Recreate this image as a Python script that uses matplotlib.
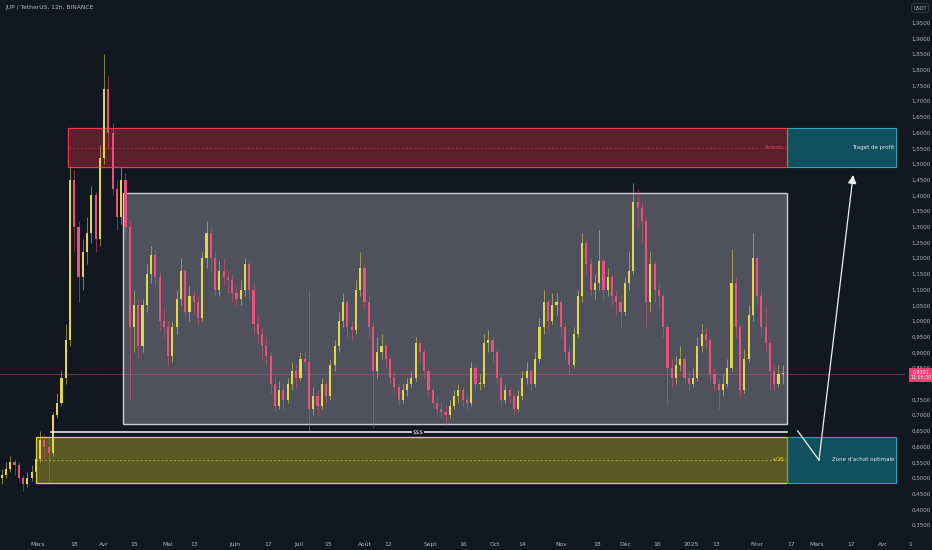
import matplotlib
matplotlib.use("Agg")
import matplotlib.pyplot as plt
from matplotlib.patches import Rectangle
import pandas as pd

# ---------------- data ----------------
start_date = "2024-02-13"          # first candle (2-day candles)
candle_step_days = 2
first_open = 0.50
closes = [
    0.51, 0.53, 0.55, 0.54, 0.50, 0.48, 0.50, 0.52, 0.56, 0.62,
    0.60, 0.58, 0.70, 0.74, 0.82, 0.94, 1.45, 1.30, 1.14, 1.22,
    1.28, 1.40, 1.26, 1.52, 1.74, 1.60, 1.42, 1.33, 1.45, 1.30,
    0.98, 1.05, 0.92, 1.05, 1.15, 1.21, 1.14, 1.00, 0.98, 0.89,
    0.98, 1.07, 1.16, 1.03, 1.08, 1.06, 1.01, 1.20, 1.28, 1.20,
    1.10, 1.16, 1.14, 1.13, 1.09, 1.07, 1.10, 1.18, 1.10, 0.99,
    0.96, 0.92, 0.89, 0.80, 0.73, 0.78, 0.75, 0.80, 0.84, 0.82,
    0.88, 0.87, 0.72, 0.76, 0.73, 0.80, 0.76, 0.86, 0.92, 1.00,
    1.06, 0.98, 0.97, 1.10, 1.17, 1.06, 0.98, 0.84, 0.90, 0.92,
    0.88, 0.82, 0.79, 0.75, 0.78, 0.80, 0.82, 0.93, 0.90, 0.84,
    0.78, 0.74, 0.72, 0.71, 0.70, 0.73, 0.76, 0.78, 0.75, 0.74,
    0.85, 0.80, 0.80, 0.93, 0.94, 0.90, 0.82, 0.75, 0.78, 0.76,
    0.72, 0.76, 0.82, 0.84, 0.80, 0.88, 0.98, 1.06, 1.00, 1.05,
    1.06, 0.98, 0.90, 0.86, 0.96, 1.08, 1.25, 1.18, 1.10, 1.12,
    1.19, 1.10, 1.14, 1.08, 1.06, 1.03, 1.12, 1.16, 1.38, 1.36,
    1.32, 1.06, 1.18, 1.10, 1.08, 0.98, 0.85, 0.82, 0.86, 0.88,
    0.82, 0.80, 0.82, 0.92, 0.96, 0.94, 0.83, 0.80, 0.78, 0.80,
    0.85, 1.12, 0.98, 0.78, 0.88, 1.02, 1.20, 1.08, 0.98, 0.93,
    0.84, 0.80, 0.83, 0.83,
]
highs = [
    0.53, 0.55, 0.57, 0.56, 0.55, 0.51, 0.52, 0.54, 0.58, 0.65,
    0.64, 0.63, 0.71, 0.77, 0.84, 0.99, 1.49, 1.48, 1.32, 1.26,
    1.33, 1.43, 1.41, 1.56, 1.85, 1.78, 1.63, 1.45, 1.49, 1.47,
    1.32, 1.10, 1.07, 1.07, 1.18, 1.24, 1.23, 1.16, 1.04, 1.00,
    1.00, 1.10, 1.20, 1.17, 1.11, 1.10, 1.08, 1.22, 1.32, 1.30,
    1.22, 1.19, 1.20, 1.16, 1.15, 1.11, 1.13, 1.20, 1.19, 1.12,
    1.02, 0.98, 0.95, 0.90, 0.82, 0.81, 0.80, 0.82, 0.87, 0.86,
    0.90, 0.90, 1.10, 0.79, 0.78, 0.82, 0.81, 0.88, 0.94, 1.03,
    1.09, 1.07, 1.00, 1.13, 1.22, 1.18, 1.08, 1.00, 0.95, 0.96,
    0.93, 0.89, 0.84, 0.80, 0.80, 0.82, 0.84, 0.95, 0.94, 0.91,
    0.85, 0.79, 0.76, 0.74, 0.73, 0.75, 0.78, 0.80, 0.79, 0.77,
    0.87, 0.86, 0.83, 0.96, 0.97, 0.95, 0.91, 0.83, 0.80, 0.79,
    0.77, 0.78, 0.84, 0.87, 0.85, 0.90, 1.01, 1.10, 1.07, 1.09,
    1.09, 1.07, 0.99, 0.92, 0.98, 1.10, 1.28, 1.26, 1.20, 1.15,
    1.29, 1.20, 1.17, 1.15, 1.10, 1.08, 1.14, 1.22, 1.44, 1.42,
    1.38, 1.33, 1.22, 1.19, 1.12, 1.09, 0.99, 0.88, 0.89, 0.92,
    0.89, 0.84, 0.85, 0.95, 0.99, 0.98, 0.95, 0.85, 0.82, 0.83,
    0.88, 1.23, 1.14, 0.99, 0.91, 1.05, 1.28, 1.21, 1.10, 1.05,
    0.94, 0.86, 0.86, 0.86,
]
lows = [
    0.48, 0.50, 0.52, 0.51, 0.49, 0.46, 0.47, 0.49, 0.51, 0.55,
    0.56, 0.49, 0.57, 0.69, 0.73, 0.80, 0.92, 1.22, 1.06, 1.10,
    1.18, 1.25, 1.22, 1.24, 1.50, 1.55, 1.40, 1.29, 1.31, 1.26,
    0.75, 0.90, 0.88, 0.90, 1.03, 1.12, 1.11, 0.97, 0.95, 0.86,
    0.87, 0.96, 1.05, 1.01, 1.00, 1.02, 0.99, 1.00, 1.17, 1.16,
    1.08, 1.08, 1.11, 1.09, 1.06, 1.05, 1.05, 1.08, 1.07, 0.96,
    0.93, 0.88, 0.86, 0.77, 0.71, 0.72, 0.72, 0.74, 0.78, 0.79,
    0.81, 0.84, 0.65, 0.70, 0.70, 0.72, 0.74, 0.75, 0.84, 0.90,
    0.98, 0.95, 0.94, 0.96, 1.08, 1.04, 0.95, 0.66, 0.82, 0.88,
    0.85, 0.80, 0.77, 0.73, 0.74, 0.76, 0.79, 0.81, 0.87, 0.82,
    0.76, 0.72, 0.70, 0.69, 0.67, 0.69, 0.72, 0.74, 0.73, 0.72,
    0.73, 0.78, 0.78, 0.79, 0.90, 0.87, 0.80, 0.73, 0.74, 0.74,
    0.70, 0.71, 0.75, 0.80, 0.78, 0.79, 0.87, 0.96, 0.97, 0.99,
    1.02, 0.95, 0.88, 0.83, 0.85, 0.95, 1.06, 1.15, 1.08, 1.07,
    1.10, 1.07, 1.08, 1.05, 1.02, 0.98, 1.02, 1.10, 1.15, 1.30,
    1.25, 0.98, 1.03, 1.06, 1.04, 0.95, 0.74, 0.79, 0.80, 0.84,
    0.80, 0.78, 0.79, 0.81, 0.90, 0.91, 0.81, 0.78, 0.72, 0.76,
    0.79, 0.84, 0.95, 0.76, 0.77, 0.87, 1.00, 1.05, 0.95, 0.90,
    0.78, 0.78, 0.79, 0.80,
]

tick_dates = ["2024-03-01", "2024-03-18", "2024-04-01", "2024-04-15", "2024-05-01",
              "2024-05-13", "2024-06-01", "2024-06-17", "2024-07-01", "2024-07-15",
              "2024-08-01", "2024-08-12", "2024-09-01", "2024-09-16", "2024-10-01",
              "2024-10-14", "2024-11-01", "2024-11-18", "2024-12-01", "2024-12-16",
              "2025-01-01", "2025-01-13", "2025-02-01", "2025-02-17", "2025-03-01",
              "2025-03-17", "2025-04-01"]
tick_labels = ["Mars", "18", "Avr", "15", "Mai", "13", "Juin", "17", "Juil", "15",
               "Août", "12", "Sept", "16", "Oct", "14", "Nov", "18", "Déc", "16",
               "2025", "13", "Févr", "17", "Mars", "17", "Avr"]
price_ticks = [0.35, 0.40, 0.45, 0.50, 0.55, 0.60, 0.65, 0.70, 0.75, 0.85,
               0.90, 0.95, 1.00, 1.05, 1.10, 1.15, 1.20, 1.25, 1.30, 1.35, 1.40,
               1.45, 1.50, 1.55, 1.60, 1.65, 1.70, 1.75, 1.80, 1.85, 1.90, 1.95]

# zones (price levels) and dates
red_zone = (1.490, 1.615)
gray_zone = (0.672, 1.408)
yellow_zone = (0.484, 0.631)
liquidity_level = 0.645
last_price = 0.831
zones_end = "2025-02-15"
target_end = "2025-04-07"
red_start = "2024-03-15"
gray_start = "2024-04-10"
yellow_start = "2024-02-29"
liq_start = "2024-03-07"
liq_label_date = "2024-08-26"

# ---------------- helpers ----------------
ref = pd.Timestamp("2024-03-01")
def dday(s):
    return (pd.Timestamp(s) - ref).days

opens = [first_open] + closes[:-1]
t0 = dday(start_date)
xs = [t0 + candle_step_days * i for i in range(len(closes))]

BG = "#131722"
TXT = "#b2b5be"
UP = "#e0d84a"
DN = "#e8507e"

fig = plt.figure(figsize=(9.32, 5.5), dpi=100, facecolor=BG)
ax = fig.add_axes([0, 15 / 550, 905 / 932, 535 / 550])
ax.set_facecolor(BG)
for s in ax.spines.values():
    s.set_visible(False)

ax.set_xlim(-17.8, 406.3)
ax.set_ylim(0.3185, 2.0223)

ze = dday(zones_end)
te = dday(target_end)
def zone(x0, x1, lo, hi, fc, fa, ec, lw=0.9, z=1):
    ax.add_patch(Rectangle((x0, lo), x1 - x0, hi - lo, facecolor=fc, alpha=fa,
                           edgecolor="none", zorder=z))
    ax.add_patch(Rectangle((x0, lo), x1 - x0, hi - lo, facecolor="none",
                           edgecolor=ec, lw=lw, zorder=z + 3))

rs = dday(red_start)
zone(rs, ze, red_zone[0], red_zone[1], "#f23645", 0.32, "#f23645")
ax.plot([rs, ze], [sum(red_zone) / 2] * 2, ls=(0, (3, 3)), color="#f23645", lw=0.5, alpha=0.7, zorder=2)
gs = dday(gray_start)
zone(gs, ze, gray_zone[0], gray_zone[1], "#a3a6ad", 0.42, "#c9ccd2", lw=1.0)
ys = dday(yellow_start)
zone(ys, ze, yellow_zone[0], yellow_zone[1], "#b7ab2a", 0.45, "#e3d63c")
ax.plot([ys, ze], [sum(yellow_zone) / 2] * 2, ls=(0, (3, 3)), color="#e3d63c", lw=0.5, alpha=0.8, zorder=2)
zone(ze, te, red_zone[0], red_zone[1], "#0f5866", 0.9, "#2aa3b8", lw=0.8)
zone(ze, te, yellow_zone[0], yellow_zone[1], "#0f5866", 0.9, "#2aa3b8", lw=0.8)

# liquidity line
ls_ = dday(liq_start)
ax.plot([ls_, ze], [liquidity_level] * 2, color="#e6e6e6", lw=1.2, zorder=6)
ax.text(dday(liq_label_date), liquidity_level, "$$$", color="#e6e6e6", fontsize=4.2,
        ha="center", va="center", zorder=7,
        bbox=dict(facecolor=BG, edgecolor="none", pad=0.6))

# last price line
ax.axhline(last_price, color=DN, lw=0.6, alpha=0.55, zorder=2)

# candles
for x, o, c, h, l in zip(xs, opens, closes, highs, lows):
    col = UP if c >= o else DN
    ax.plot([x, x], [l, h], color=col, lw=0.5, alpha=0.75, zorder=5, solid_capstyle="butt")
    bot = min(o, c)
    hgt = max(abs(c - o), 0.004)
    ax.add_patch(Rectangle((x - 0.5, bot), 1.0, hgt, facecolor=col, edgecolor="none", zorder=5))

# zone labels
ax.text(ze - 1.5, sum(red_zone) / 2, "Polents", color="#f23645", fontsize=4.0,
        ha="right", va="center", zorder=8)
ax.text(ze - 1.5, sum(yellow_zone) / 2, "+OB", color="#e3d63c", fontsize=4.0,
        ha="right", va="center", zorder=8)
ax.text(te - 0.8, sum(red_zone) / 2, "Traget de profit", color="#e6e6e6",
        fontsize=4.0, ha="right", va="center", zorder=8)
ax.text(te - 0.8, sum(yellow_zone) / 2, "Zone d'achat optimale", color="#e6e6e6",
        fontsize=4.0, ha="right", va="center", zorder=8)

# arrow path
path_d = [dday("2025-02-20"), dday("2025-03-02"), dday("2025-03-18")]
path_v = [0.650, 0.557, 1.465]
ax.plot(path_d[:2], path_v[:2], color="#f0f0f0", lw=0.9, zorder=8)
ax.annotate("", xy=(path_d[2], path_v[2]), xytext=(path_d[1], path_v[1]),
            arrowprops=dict(arrowstyle="-|>,head_length=0.5,head_width=0.25",
                            color="#f0f0f0", lw=0.9, shrinkA=0, shrinkB=0), zorder=8)

# axes ticks
ax.set_xticks([dday(d) for d in tick_dates])
ax.set_xticklabels(tick_labels)
ax.yaxis.tick_right()
ax.set_yticks(price_ticks)
ax.set_yticklabels([f"{v:.4f}".replace(".", ",") for v in price_ticks])
ax.tick_params(axis="both", length=0, colors=TXT, labelsize=4.0)
ax.tick_params(axis="x", pad=5, labelsize=4.3)
ax.tick_params(axis="y", pad=11.5)
for lab in ax.get_yticklabels():
    lab.set_horizontalalignment("center")

# extra texts
fig.text(910 / 932, 1 - 544 / 550, "1", color=TXT, fontsize=4.3, ha="center", va="center")
fig.text(5 / 932, 1 - 8 / 550, "JUP / TetherUS, 12h, BINANCE", color=TXT, fontsize=4.3,
         ha="left", va="center")
fig.text(920 / 932, 1 - 8 / 550, "USDT", color=TXT, fontsize=3.6, ha="center", va="center",
         bbox=dict(boxstyle="round,pad=0.35,rounding_size=0.3", facecolor=BG,
                   edgecolor="#434651", lw=0.5))
# last price tag
fig.text(921 / 932, 1 - 375 / 550, "0,8301\n11:06:30",
         color="white", fontsize=3.4, ha="center", va="center", linespacing=1.1,
         bbox=dict(boxstyle="square,pad=0.3", facecolor="#f23d75", edgecolor="none"),
         zorder=10)

fig.savefig("out.png", dpi=100, facecolor=BG)
